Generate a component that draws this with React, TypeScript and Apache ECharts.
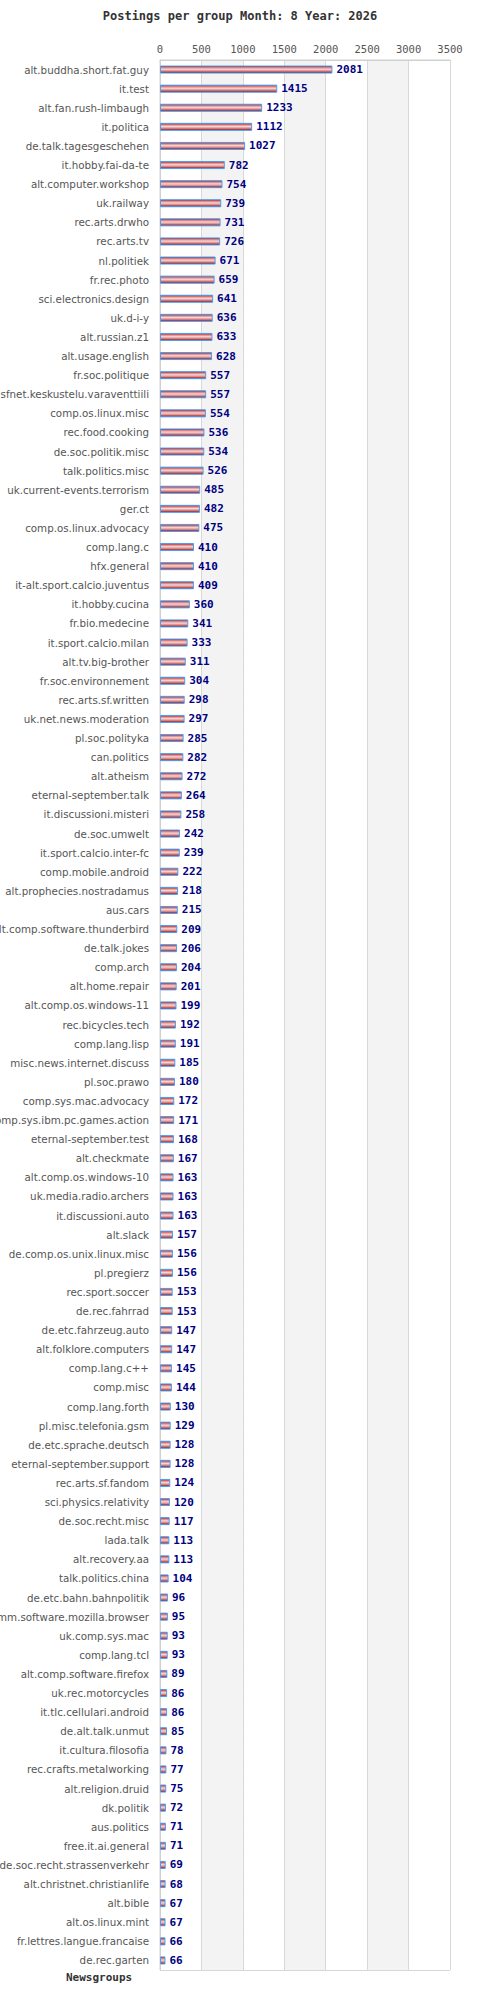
import React, { useEffect, useRef } from 'react';
import * as echarts from 'echarts';

const groups = [
  'alt.buddha.short.fat.guy', 'it.test', 'alt.fan.rush-limbaugh', 'it.politica', 'de.talk.tagesgeschehen',
  'it.hobby.fai-da-te', 'alt.computer.workshop', 'uk.railway', 'rec.arts.drwho', 'rec.arts.tv',
  'nl.politiek', 'fr.rec.photo', 'sci.electronics.design', 'uk.d-i-y', 'alt.russian.z1',
  'alt.usage.english', 'fr.soc.politique', 'sfnet.keskustelu.varaventtiili', 'comp.os.linux.misc', 'rec.food.cooking',
  'de.soc.politik.misc', 'talk.politics.misc', 'uk.current-events.terrorism', 'ger.ct', 'comp.os.linux.advocacy',
  'comp.lang.c', 'hfx.general', 'it-alt.sport.calcio.juventus', 'it.hobby.cucina', 'fr.bio.medecine',
  'it.sport.calcio.milan', 'alt.tv.big-brother', 'fr.soc.environnement', 'rec.arts.sf.written', 'uk.net.news.moderation',
  'pl.soc.polityka', 'can.politics', 'alt.atheism', 'eternal-september.talk', 'it.discussioni.misteri',
  'de.soc.umwelt', 'it.sport.calcio.inter-fc', 'comp.mobile.android', 'alt.prophecies.nostradamus', 'aus.cars',
  'alt.comp.software.thunderbird', 'de.talk.jokes', 'comp.arch', 'alt.home.repair', 'alt.comp.os.windows-11',
  'rec.bicycles.tech', 'comp.lang.lisp', 'misc.news.internet.discuss', 'pl.soc.prawo', 'comp.sys.mac.advocacy',
  'comp.sys.ibm.pc.games.action', 'eternal-september.test', 'alt.checkmate', 'alt.comp.os.windows-10', 'uk.media.radio.archers',
  'it.discussioni.auto', 'alt.slack', 'de.comp.os.unix.linux.misc', 'pl.pregierz', 'rec.sport.soccer',
  'de.rec.fahrrad', 'de.etc.fahrzeug.auto', 'alt.folklore.computers', 'comp.lang.c++', 'comp.misc',
  'comp.lang.forth', 'pl.misc.telefonia.gsm', 'de.etc.sprache.deutsch', 'eternal-september.support', 'rec.arts.sf.fandom',
  'sci.physics.relativity', 'de.soc.recht.misc', 'lada.talk', 'alt.recovery.aa', 'talk.politics.china',
  'de.etc.bahn.bahnpolitik', 'de.comm.software.mozilla.browser', 'uk.comp.sys.mac', 'comp.lang.tcl', 'alt.comp.software.firefox',
  'uk.rec.motorcycles', 'it.tlc.cellulari.android', 'de.alt.talk.unmut', 'it.cultura.filosofia', 'rec.crafts.metalworking',
  'alt.religion.druid', 'dk.politik', 'aus.politics', 'free.it.ai.general', 'de.soc.recht.strassenverkehr',
  'alt.christnet.christianlife', 'alt.bible', 'alt.os.linux.mint', 'fr.lettres.langue.francaise', 'de.rec.garten',
];

const postings = [
  2081, 1415, 1233, 1112, 1027,
  782, 754, 739, 731, 726,
  671, 659, 641, 636, 633,
  628, 557, 557, 554, 536,
  534, 526, 485, 482, 475,
  410, 410, 409, 360, 341,
  333, 311, 304, 298, 297,
  285, 282, 272, 264, 258,
  242, 239, 222, 218, 215,
  209, 206, 204, 201, 199,
  192, 191, 185, 180, 172,
  171, 168, 167, 163, 163,
  163, 157, 156, 156, 153,
  153, 147, 147, 145, 144,
  130, 129, 128, 128, 124,
  120, 117, 113, 113, 104,
  96, 95, 93, 93, 89,
  86, 86, 85, 78, 77,
  75, 72, 71, 71, 69,
  68, 67, 67, 66, 66,
];

const xMax = 3500;
const xStep = 500;

const mono = 'DejaVu Sans Mono';

const App: React.FC = () => {
  const chartRef = useRef<HTMLDivElement | null>(null);

  useEffect(() => {
    document.body.style.margin = '0';
    if (!chartRef.current) return;
    const chart = echarts.init(chartRef.current, null, { renderer: 'svg' });

    const barFill = new echarts.graphic.LinearGradient(0, 0, 0, 1, [
      { offset: 0, color: '#a31818' },
      { offset: 0.2, color: '#d77a7a' },
      { offset: 0.45, color: '#f4d6d6' },
      { offset: 0.7, color: '#d98a8a' },
      { offset: 1, color: '#8a0a0a' },
    ]);

    chart.setOption({
      animation: false,
      backgroundColor: '#fff',
      title: {
        text: 'Postings per group Month: 8 Year: 2026',
        left: 'center',
        top: 5,
        textStyle: { fontFamily: mono, fontSize: 12, fontWeight: 'bold', color: '#333' },
      },
      grid: {
        left: 160,
        right: 30,
        top: 60,
        bottom: 30,
        containLabel: false,
        outerBoundsMode: 'none',
        show: true,
        borderColor: '#d0d0d0',
        borderWidth: 1,
      },
      xAxis: {
        type: 'value',
        position: 'top',
        min: 0,
        max: xMax,
        interval: xStep,
        axisLine: { show: true, lineStyle: { color: '#d0d0d0' } },
        axisTick: { show: false },
        axisLabel: {
          fontFamily: mono,
          fontSize: 10.5,
          color: '#555',
          margin: 6,
          formatter: (v: number) => String(v),
        },
        splitLine: { show: true, lineStyle: { color: '#d8d8d8' } },
        splitArea: { show: true, areaStyle: { color: ['#ffffff', '#f3f3f3'] } },
      },
      yAxis: {
        type: 'category',
        data: groups,
        inverse: true,
        axisLine: { show: true, lineStyle: { color: '#d0d0d0' } },
        axisTick: { show: false },
        axisLabel: { fontFamily: 'DejaVu Sans', fontSize: 10.3, color: '#555', margin: 11, interval: 0 },
        splitLine: { show: true, interval: 0, lineStyle: { color: '#d8d8d8' } },
      },
      graphic: [
        {
          type: 'text',
          left: 66,
          top: 1972,
          style: { text: 'Newsgroups', font: `bold 11px "${mono}"`, fill: '#333' },
        },
      ],
      series: [
        {
          type: 'bar',
          data: postings,
          barWidth: 8,
          itemStyle: { color: barFill, borderColor: '#4a9ef5', borderWidth: 1 },
          label: {
            show: true,
            position: 'right',
            distance: 4,
            fontFamily: mono,
            fontSize: 11,
            fontWeight: 'bold',
            color: '#000080',
          },
        },
      ],
    });

    return () => {
      chart.dispose();
    };
  }, []);

  return <div ref={chartRef} style={{ width: '480px', height: '2000px' }} />;
};

export default App;
